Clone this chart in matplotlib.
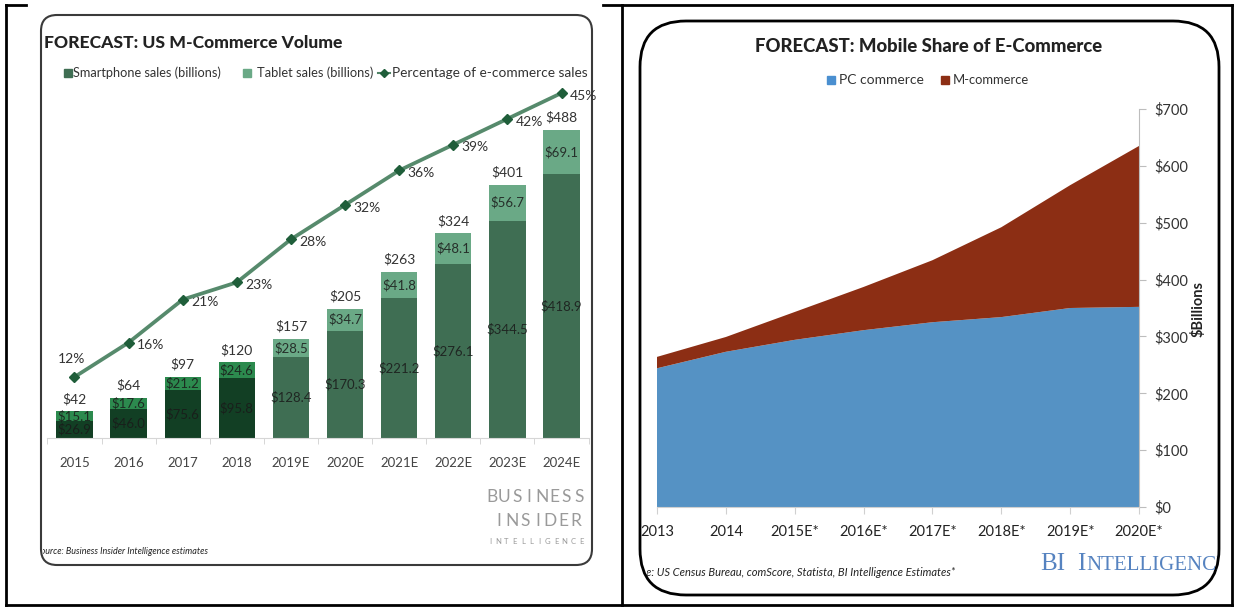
import matplotlib
matplotlib.use('Agg')
import matplotlib.pyplot as plt
from matplotlib.patches import FancyBboxPatch, Rectangle
from matplotlib.transforms import Bbox, TransformedBbox
import numpy as np

plt.rcParams['font.family'] = ['Lato', 'DejaVu Sans']
plt.rcParams['text.parse_math'] = False

# ---------------- data: left chart ----------------
years_l = ['2015', '2016', '2017', '2018', '2019E', '2020E', '2021E', '2022E', '2023E', '2024E']
smartphone = [26.9, 46.0, 75.6, 95.8, 128.4, 170.3, 221.2, 276.1, 344.5, 418.9]
tablet = [15.1, 17.6, 21.2, 24.6, 28.5, 34.7, 41.8, 48.1, 56.7, 69.1]
totals = [42, 64, 97, 120, 157, 205, 263, 324, 401, 488]
pct = [12, 16, 21, 23, 28, 32, 36, 39, 42, 45]

# ---------------- data: right chart ----------------
years_r = ['2013', '2014', '2015E*', '2016E*', '2017E*', '2018E*', '2019E*', '2020E*']
pc_commerce = [244, 273, 294, 311, 325, 334, 350, 352]
m_commerce = [20, 26, 49, 76, 109, 158, 216, 283]
yticks_r = [0, 100, 200, 300, 400, 500, 600, 700]

W, H = 1234, 607
fig = plt.figure(figsize=(W / 100, H / 100), dpi=100)
fig.patch.set_facecolor('white')
bg = fig.add_axes([0, 0, 1, 1])
bg.set_xlim(0, W)
bg.set_ylim(H, 0)
bg.axis('off')


def px_axes(l, t, r, b):
    return fig.add_axes([l / W, 1 - b / H, (r - l) / W, (b - t) / H])


def fit(t, width):
    r = fig.canvas.get_renderer()
    bb = t.get_window_extent(renderer=r)
    t.set_fontsize(t.get_fontsize() * width / bb.width)
    return t


def clip_px(t, x0, x1, y0=0, y1=H):
    t.set_clip_on(True)
    t.set_clip_box(TransformedBbox(Bbox([[x0, y0], [x1, y1]]), bg.transData))


def spaced(x0, x1, y, s, **kw):
    n = len(s)
    xs = np.linspace(x0, x1, n)
    for ch, xx in zip(s, xs):
        bg.text(xx, y, ch, ha='center', va='center', **kw)


# ---------------- table borders ----------------
bc = 'black'
bg.plot([6, 26], [5, 5], color=bc, lw=2)
bg.plot([603, 1232], [5, 5], color=bc, lw=2)
bg.plot([6, 6], [5, 605], color=bc, lw=2)
bg.plot([622, 622], [5, 605], color=bc, lw=2)
bg.plot([1232, 1232], [5, 605], color=bc, lw=2)
bg.plot([6, 1232], [605, 605], color=bc, lw=2)

# ---------------- frames ----------------
frameL = FancyBboxPatch((41, 15), 551, 550, boxstyle='round,pad=0,rounding_size=16',
                        ec='#3a3a3a', fc='none', lw=1.5)
bg.add_patch(frameL)
frameR = FancyBboxPatch((640, 21), 579, 574, boxstyle='round,pad=0,rounding_size=46',
                        ec='black', fc='none', lw=2)
bg.add_patch(frameR)

# ================= LEFT CHART =================
sm_early, tab_early = '#123f24', '#2c8a4e'
sm_late, tab_late = '#3f6e53', '#6aa986'
sm_cols = [sm_early] * 4 + [sm_late] * 6
tab_cols = [tab_early] * 4 + [tab_late] * 6

t = bg.text(44, 43, 'FORECAST: US M-Commerce Volume', fontweight='black', fontsize=14,
            va='center', ha='left', color='#222222')
fit(t, 299)

# legend
bg.add_patch(Rectangle((64, 69), 8, 8, color=sm_late))
t = bg.text(73, 73, 'Smartphone sales (billions)', fontsize=10, va='center', color='#333333')
fit(t, 149)
bg.add_patch(Rectangle((243, 69), 8, 8, color=tab_late))
t = bg.text(257, 73, 'Tablet sales (billions)', fontsize=10, va='center', color='#333333')
fit(t, 116)
bg.plot([378, 390], [73, 73], color='#4f8466', lw=1.5)
bg.plot([384], [73], marker='D', ms=4, color='#1f5e3a')
t = bg.text(392, 73, 'Percentage of e-commerce sales', fontsize=10, va='center', color='#333333')
fit(t, 194)

axL = px_axes(47.4, 85, 588.6, 438)
axL.patch.set_alpha(0)
x = np.arange(len(years_l))
axL.bar(x, smartphone, width=0.67, color=sm_cols, zorder=2)
axL.bar(x, tablet, bottom=smartphone, width=0.67, color=tab_cols, zorder=2)
axL.set_xlim(-0.5, 9.5)
axL.set_ylim(0, 559.3)
for s in ['top', 'left', 'right']:
    axL.spines[s].set_visible(False)
axL.spines['bottom'].set_color('#d6d6d6')
axL.set_yticks([])
axL.set_xticks(x)
axL.set_xticklabels(years_l, fontsize=9.5, color='#444444')
axL.tick_params(axis='x', which='major', length=0, pad=14)
axL.set_xticks(np.arange(-0.5, 10, 1), minor=True)
axL.tick_params(axis='x', which='minor', length=4, color='#d0d0d0')

for i in range(len(years_l)):
    axL.text(x[i], smartphone[i] / 2, '$%.1f' % smartphone[i], ha='center', va='center',
             fontsize=9.5, color='#1a1a1a', alpha=0.85, zorder=3)
    axL.text(x[i], smartphone[i] + tablet[i] / 2, '$%.1f' % tablet[i], ha='center', va='center',
             fontsize=9.5, color='#1a1a1a', alpha=0.85, zorder=3)
    axL.annotate('$%d' % totals[i], (x[i], totals[i]), xytext=(0, 9), textcoords='offset points',
                 ha='center', va='center', fontsize=10, color='#333333')

axP = axL.twinx()
axP.set_ylim(4.912, 45.93)
axP.axis('off')
axP.plot(x, pct, color='#568a6c', lw=2.7, marker='D', ms=5, mfc='#1f5e3a', mec='#1f5e3a', zorder=4)
for i in range(len(pct)):
    if i == 0:
        axP.annotate('%d%%' % pct[i], (x[i], pct[i]), xytext=(-2, 13), textcoords='offset points',
                     ha='center', va='center', fontsize=10, color='#333333')
    else:
        axP.annotate('%d%%' % pct[i], (x[i], pct[i]), xytext=(6, -2), textcoords='offset points',
                     ha='left', va='center', fontsize=10, color='#333333')

# watermark
spaced(492, 579, 497, 'BUSINESS', fontsize=12.5, color='#9a9a9a')
spaced(499, 576, 521, 'INSIDER', fontsize=12.5, color='#9a9a9a')
spaced(490, 581, 541, 'INTELLIGENCE', fontsize=5.5, color='#9a9a9a')

t = bg.text(36, 551, 'Source: Business Insider Intelligence estimates', fontsize=6.5,
            style='italic', va='center', color='#222222')
fit(t, 172)
clip_px(t, 43, 600)

# ================= RIGHT CHART =================
blue, red = '#5592c4', '#8c2e14'
t = bg.text(928.5, 46, 'FORECAST: Mobile Share of E-Commerce', fontweight='black', fontsize=14,
            va='center', ha='center', color='#222222')
fit(t, 349)

bg.add_patch(Rectangle((827, 76), 8, 8, color='#4a8fd0'))
t = bg.text(839, 80, 'PC commerce', fontsize=10.5, va='center', color='#333333')
fit(t, 85)
bg.add_patch(Rectangle((941, 76), 8, 8, color=red))
t = bg.text(953, 80, 'M-commerce', fontsize=10.5, va='center', color='#333333')
fit(t, 77)

axR = px_axes(657, 109, 1139, 507)
axR.patch.set_alpha(0)
xr = np.arange(len(years_r))
axR.stackplot(xr, pc_commerce, m_commerce, colors=[blue, red], zorder=2)
axR.set_xlim(0, 7)
axR.set_ylim(0, 700)
for s in ['top', 'left']:
    axR.spines[s].set_visible(False)
axR.spines['right'].set_color('#bdbdbd')
axR.spines['bottom'].set_color('#d0d0d0')
axR.yaxis.tick_right()
axR.set_yticks(yticks_r)
axR.set_yticklabels(['$%d' % v for v in yticks_r], fontsize=10.5, color='#333333')
axR.tick_params(axis='y', length=5, color='#bdbdbd', pad=6)
axR.set_xticks(xr)
axR.set_xticklabels(years_r, fontsize=10.5, color='#222222')
axR.tick_params(axis='x', length=5, color='#d0d0d0', pad=8)

bg.text(1198, 309, '$Billions', rotation=90, fontweight='bold', fontsize=10.5,
        ha='center', va='center', color='#222222')

serif = ['Liberation Serif', 'DejaVu Serif']
t1 = bg.text(1040, 570, 'BI', fontsize=18, family=serif, va='baseline', color='#5683c0')
t2 = bg.text(1077, 570, 'I', fontsize=18, family=serif, va='baseline', color='#5683c0')
t3 = bg.text(1086, 570, 'NTELLIGENCE', fontsize=15, family=serif, va='baseline', color='#5683c0')
for tt in (t1, t2, t3):
    clip_px(tt, 600, 1217)

t = bg.text(620, 572, 'Source: US Census Bureau, comScore, Statista, BI Intelligence Estimates*',
            fontsize=6.5, style='italic', va='center', color='#222222')
fit(t, 334)
clip_px(t, 647, 1200)

fig.savefig('out.png', dpi=100, facecolor='white')
